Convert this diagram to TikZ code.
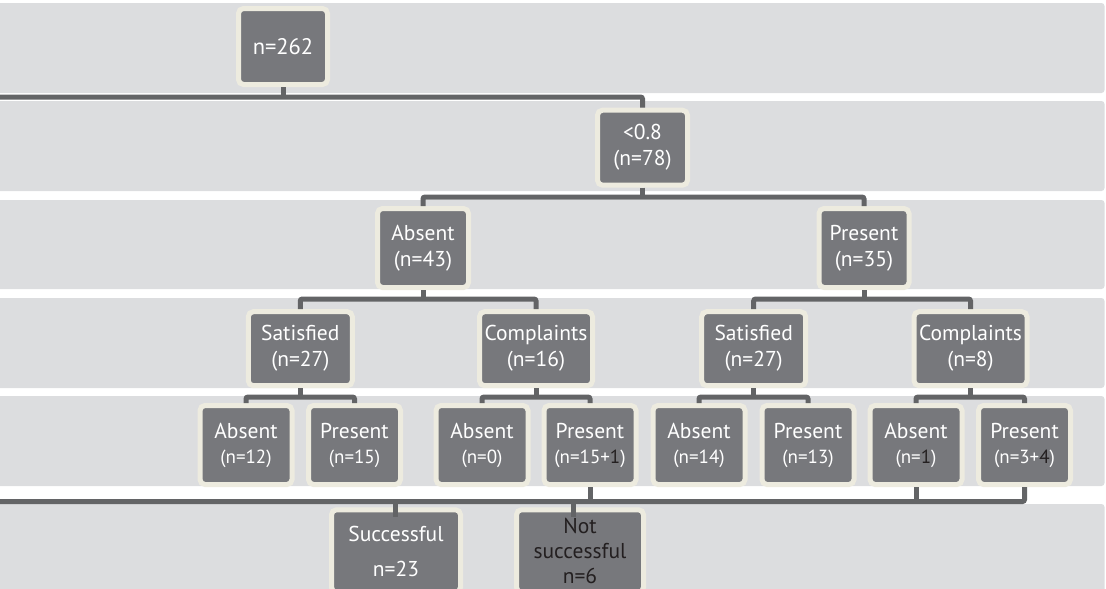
\documentclass[tikz,border=0pt]{standalone}
\usepackage{fontspec}
\setmainfont{PT Sans}
\usetikzlibrary{calc}
\definecolor{bandc}{HTML}{DCDDDF}
\definecolor{nodec}{HTML}{77787C}
\definecolor{creamc}{HTML}{EDEBDF}
\definecolor{linec}{HTML}{636466}
\definecolor{dkc}{HTML}{231F20}
\newcommand{\smn}[1]{{\fontsize{19}{25}\selectfont #1}}
\begin{document}
\begin{tikzpicture}[x=1pt,y=-1pt,
  box/.style={rectangle, rounded corners=5pt, fill=nodec, draw=creamc, line width=5pt,
    text=white, align=center, inner sep=0pt, font=\fontsize{21.5}{26}\selectfont},
  rowfour/.style={box, minimum height=74pt},
  rowfive/.style={box, minimum width=92pt, minimum height=79pt, font=\fontsize{21.5}{25}\selectfont},
  conn/.style={draw=linec, line width=5pt, rounded corners=2pt},
  band/.style={fill=bandc, rounded corners=3pt}]
\useasboundingbox (0,0) rectangle (1106,589);
\clip (0,0) rectangle (1106,589);
% bands
\foreach \a/\b in {3/93,101/191,200/289,298/388,396/486,504/620}
  \fill[band] (-10,\a) rectangle (1104.5,\b);
% nodes
\node[box, minimum width=89pt, minimum height=76pt, font=\fontsize{22.5}{26}\selectfont] (n262) at (283,46.5) {n=262};
\node[box, minimum width=90pt, minimum height=75pt] (r078) at (642.5,147.7) {<0.8\\(n=78)};
\node[box, minimum width=91pt, minimum height=79pt] (A43) at (423,248) {Absent\\(n=43)};
\node[box, minimum width=90pt, minimum height=79pt] (P35) at (864,248) {Present\\(n=35)};
\node[rowfour, minimum width=104pt] (SatL) at (300.3,348.7) {Satisfied\\(n=27)};
\node[rowfour, minimum width=113pt] (CompL) at (536,348.7) {Complaints\\(n=16)};
\node[rowfour, minimum width=104pt] (SatR) at (753.7,348.7) {Satisfied\\(n=27)};
\node[rowfour, minimum width=113pt] (CompR) at (970.5,348.7) {Complaints\\(n=8)};
\node[rowfive] (AbsLL) at (246,445) {Absent\\\smn{(n=12)}};
\node[rowfive] (PresLL) at (354.5,445) {Present\\\smn{(n=15)}};
\node[rowfive] (AbsLR) at (482,445) {Absent\\\smn{(n=0)}};
\node[rowfive] (PresLR) at (590,445) {Present\\\smn{(n=15+\textcolor{dkc}{1})}};
\node[rowfive] (AbsRL) at (699,445) {Absent\\\smn{(n=14)}};
\node[rowfive] (PresRL) at (808,445) {Present\\\smn{(n=13)}};
\node[rowfive] (AbsRR) at (916,445) {Absent\\\smn{(n=\textcolor{dkc}{1})}};
\node[rowfive] (PresRR) at (1024.5,445) {Present\\\smn{(n=3+\textcolor{dkc}{4})}};
\node[box, minimum width=129pt, minimum height=82.5pt, font=\fontsize{21.5}{35}\selectfont] (Succ) at (396,551) {Successful\\n=23};
\node[box, minimum width=127pt, minimum height=82.5pt, text=dkc, font=\fontsize{21.5}{25}\selectfont] (NS) at (580,551) {Not\\successful\\n=6};
% bus levels
\coordinate (y1) at (0,97);
\coordinate (y2) at (0,197);
\coordinate (y3) at (0,299);
\coordinate (y4) at (0,397);
\coordinate (y5) at (0,501.5);
\coordinate (L1) at (-10,97);
\coordinate (L5) at (-10,501.5);
% connectors
\draw[conn] (n262.south) -- (n262.south |- y1);
\draw[conn] (L1) -| (r078.north);
\draw[conn] (r078.south) -- (r078.south |- y2);
\draw[conn] (A43.north) |- (y2 -| P35.north) -- (P35.north);
\draw[conn] (A43.south) -- (A43.south |- y3);
\draw[conn] (SatL.north) |- (y3 -| CompL.north) -- (CompL.north);
\draw[conn] (P35.south) -- (P35.south |- y3);
\draw[conn] (SatR.north) |- (y3 -| CompR.north) -- (CompR.north);
\draw[conn] (SatL.south) -- (SatL.south |- y4);
\draw[conn] (AbsLL.north) |- (y4 -| PresLL.north) -- (PresLL.north);
\draw[conn] (CompL.south) -- (CompL.south |- y4);
\draw[conn] (AbsLR.north) |- (y4 -| PresLR.north) -- (PresLR.north);
\draw[conn] (SatR.south) -- (SatR.south |- y4);
\draw[conn] (AbsRL.north) |- (y4 -| PresRL.north) -- (PresRL.north);
\draw[conn] (CompR.south) -- (CompR.south |- y4);
\draw[conn] (AbsRR.north) |- (y4 -| PresRR.north) -- (PresRR.north);
\draw[conn] (L5) -| (PresRR.south);
\draw[conn] (PresLR.south) -- (PresLR.south |- y5);
\draw[conn] (AbsRR.south) -- (AbsRR.south |- y5);
\draw[conn] ($(Succ.north |- y5)+(-1,0)$) -- ($(Succ.north)+(-1,10)$);
\draw[conn] ($(NS.north |- y5)+(-6.5,0)$) -- ($(NS.north)+(-6.5,10)$);
\end{tikzpicture}
\end{document}
